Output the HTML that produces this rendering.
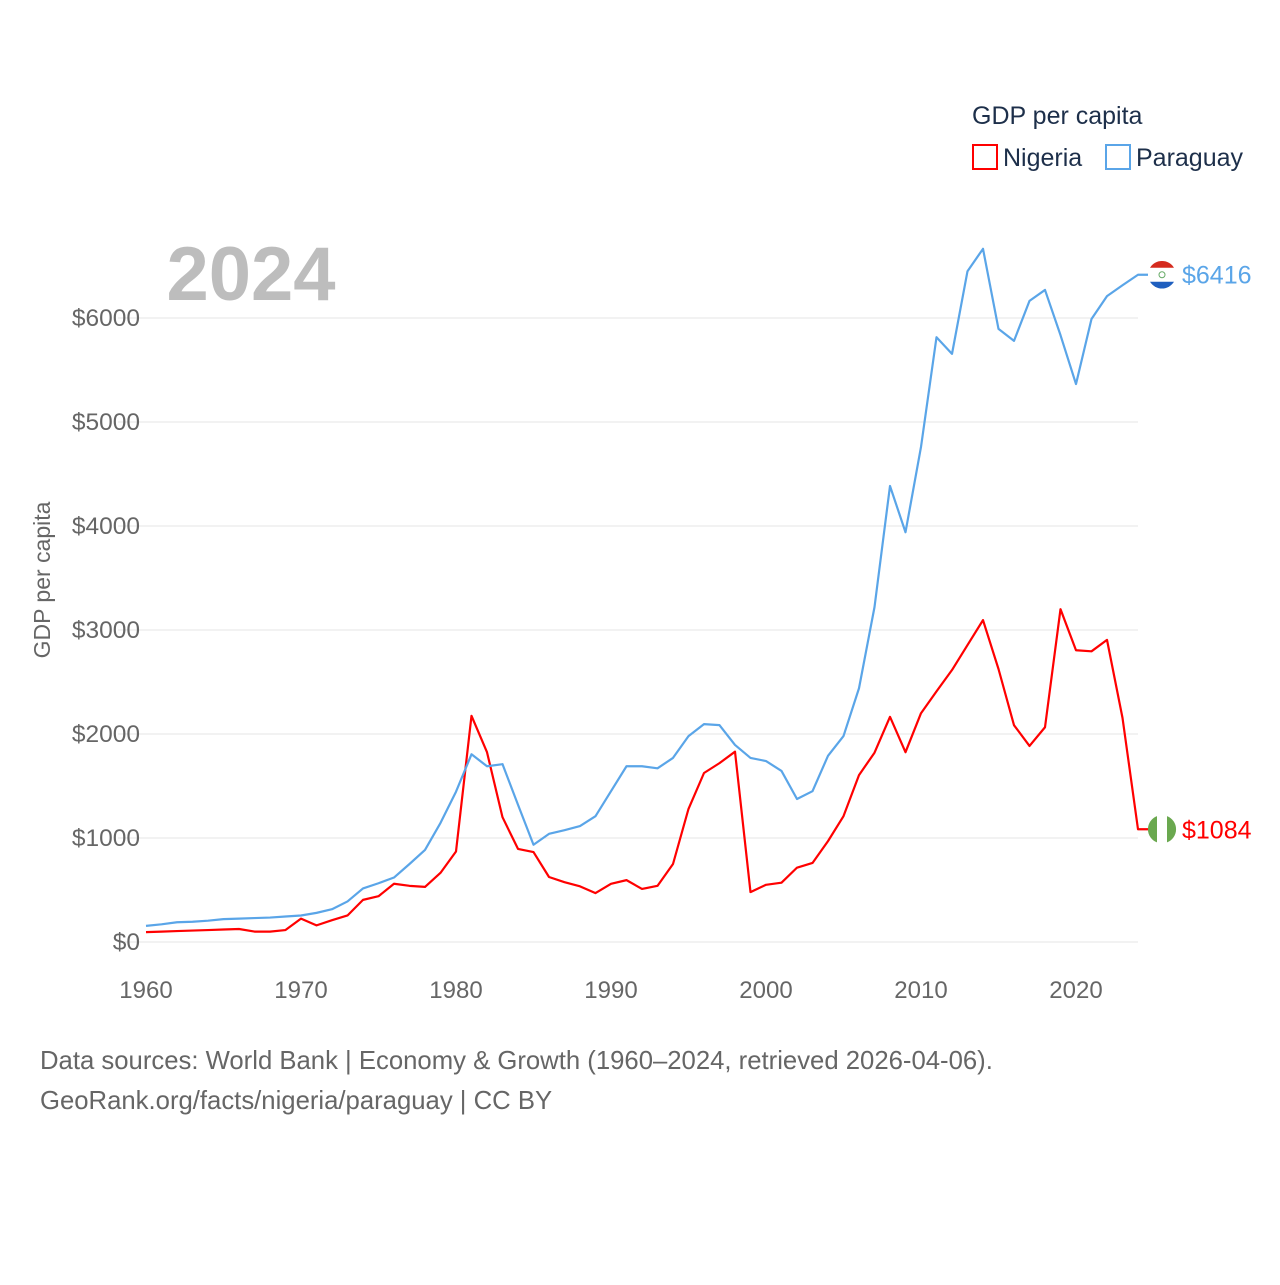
<!DOCTYPE html>
<html><head><meta charset="utf-8"><style>
body{margin:0;background:#fff;font-family:"Liberation Sans",sans-serif}
svg text{font-family:"Liberation Sans",sans-serif}
</style></head><body>
<svg width="1280" height="1280" xmlns="http://www.w3.org/2000/svg">
<g id="grid"></g><g id="xt"></g>
<text x="251" y="300" font-size="76" font-weight="bold" fill="#bdbdbd" text-anchor="middle">2024</text>
<text transform="translate(50,580) rotate(-90)" font-size="23" fill="#666" text-anchor="middle">GDP per capita</text>
<g id="lines"></g>
<g>
<text x="972" y="124" font-size="25" fill="#1d2f4a">GDP per capita</text>
<g><rect x="973" y="145" width="24" height="24" fill="none" stroke="#f00" stroke-width="2"/><text x="1003" y="166" font-size="25" fill="#1d2f4a">Nigeria</text></g>
<g><rect x="1106" y="145" width="24" height="24" fill="none" stroke="#5aa5e8" stroke-width="2"/><text x="1136" y="166" font-size="25" fill="#1d2f4a">Paraguay</text></g>
</g>
<text x="40" y="1069" font-size="25.7" fill="#666">Data sources: World Bank | Economy &amp; Growth (1960–2024, retrieved 2026-04-06).</text>
<text x="40" y="1109" font-size="25.7" fill="#666">GeoRank.org/facts/nigeria/paraguay | CC BY</text>
</svg>
<script>
const years=[];for(let y=1960;y<=2024;y++)years.push(y);
const nigeria=[95,100,105,110,115,120,125,100,100,115,225,160,210,255,405,440,560,540,530,665,870,2175,1825,1200,895,865,625,575,535,470,560,595,510,540,750,1280,1625,1720,1830,480,550,570,715,760,970,1210,1605,1820,2165,1825,2200,2410,2615,2855,3095,2625,2085,1885,2065,3200,2805,2795,2905,2155,1084];
const paraguay=[155,170,190,195,205,220,225,230,235,245,255,280,315,390,515,565,620,750,885,1145,1445,1805,1690,1710,1320,935,1040,1075,1115,1210,1450,1690,1690,1670,1770,1980,2095,2085,1895,1770,1740,1645,1375,1450,1790,1980,2440,3220,4385,3940,4760,5815,5655,6450,6665,5895,5780,6165,6270,5835,5365,5990,6210,6315,6416];
const yTicks=[0,1000,2000,3000,4000,5000,6000];
const xTicks=[1960,1970,1980,1990,2000,2010,2020];
const X=y=>146+(y-1960)*15.5, Y=v=>942-v*0.104;
const NS='http://www.w3.org/2000/svg';
function mk(t,a,p){const e=document.createElementNS(NS,t);for(const k in a)e.setAttribute(k,a[k]);p.appendChild(e);return e;}
const g=document.getElementById('grid');
yTicks.forEach(v=>{
 const l=mk('line',{x1:118,x2:1138,y1:Y(v),y2:Y(v),stroke:'#e6e6e6','stroke-width':1},g);
 
 
 const t=mk('text',{x:140,y:Y(v)+8,'font-size':24.5,fill:'#666','text-anchor':'end'},g);t.textContent='$'+v;
 
 
});
const xt=document.getElementById('xt');
xTicks.forEach(v=>{
 const t=mk('text',{x:X(v),y:998,'font-size':24,fill:'#666','text-anchor':'middle'},xt);t.textContent=v;
 
 
});
const L=document.getElementById('lines');
function series(d,c,name){
 let pts=d.map((v,i)=>X(years[i])+','+Y(v));
 const last=d[d.length-1];
 pts.push((X(2024)+10)+','+Y(last));
 const p=mk('polyline',{points:pts.join(' '),fill:'none',stroke:c,'stroke-width':2.2,'stroke-linejoin':'round'},L);
 
 
 const t=mk('text',{x:1182,y:Y(last)+9,'font-size':25,fill:c},L);t.textContent='$'+last;
 
 
 return Y(last);
}
const ny=series(nigeria,'#ff0000','nigeria');
const py=series(paraguay,'#5aa5e8','paraguay');
let f=mk('g',{},L);


mk('circle',{cx:1162,cy:ny,r:14,fill:'#fff'},f);
mk('path',{d:`M1157,${ny-13.1} A14,14 0 0 0 1157,${ny+13.1} Z`,fill:'#6aa84f'},f);
mk('path',{d:`M1167,${ny-13.1} A14,14 0 0 1 1167,${ny+13.1} Z`,fill:'#6aa84f'},f);
f=mk('g',{},L);


mk('circle',{cx:1162,cy:py,r:14,fill:'#fff'},f);
mk('path',{d:`M1150,${py-7} A14,14 0 0 1 1174,${py-7} Z`,fill:'#d52b1e'},f);
mk('path',{d:`M1150,${py+7} A14,14 0 0 0 1174,${py+7} Z`,fill:'#1f5fbf'},f);
mk('circle',{cx:1162,cy:py,r:3,fill:'none',stroke:'#6a6','stroke-width':1},f);
</script>
</body></html>
